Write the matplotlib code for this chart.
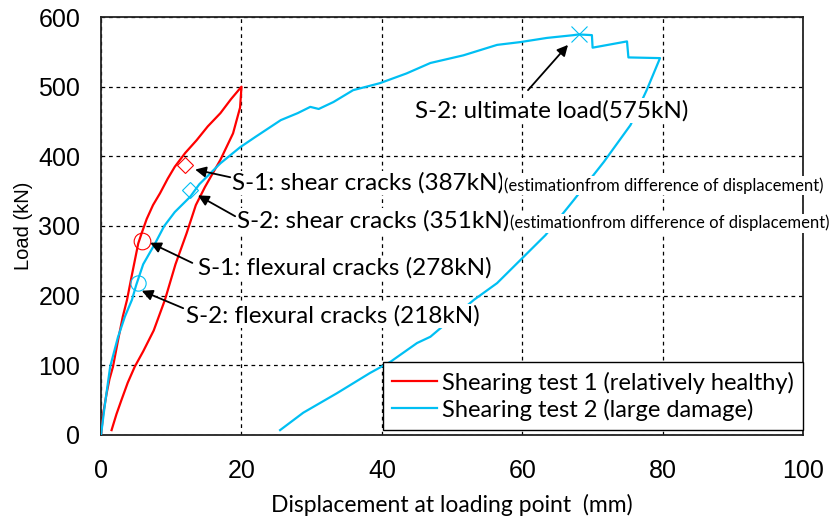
import matplotlib
matplotlib.use("Agg")
import matplotlib.pyplot as plt

# Shearing test 1: loading up to 500 kN, then unloading
s1_disp = [0, 0.3, 0.8, 1.2, 1.7, 2.5, 3.1, 3.7, 4.4, 4.9, 5.3, 5.8, 6.5, 7.4, 8.4, 9.5,
           10.5, 12.0, 13.6, 15.2, 17.0, 18.5, 20.0,
           19.8, 18.8, 17.0, 14.8, 13.5, 12.2, 10.6, 9.1, 7.5, 6.0, 4.8, 3.8, 2.9, 2.2, 1.5]
s1_load = [0, 30, 60, 80, 98, 140, 170, 194, 230, 255, 275, 290, 310, 330, 347, 368,
           385, 405, 423, 443, 462, 482, 500,
           470, 433, 395, 356, 330, 290, 245, 194, 150, 120, 98, 75, 50, 30, 7]

# Shearing test 2: loading to ultimate, post-peak drops, unloading
s2_disp = [0, 0.5, 1.3, 2.4, 3.4, 4.4, 5.0, 6.0, 7.7, 9.0, 10.5, 12.7, 14.0, 15.0, 17.0,
           19.8, 22.0, 25.6, 28.0, 29.8, 31.0, 33.1, 35.9, 39.7, 43.5, 46.9, 51.6, 56.4,
           59.7, 63.5, 67.3, 68.0, 69.9, 70.0, 74.9, 75.1, 79.6,
           77.7, 75.4, 71.6, 67.3, 63.3, 60.4, 56.4, 53.1, 46.9, 45.0, 41.2, 38.3, 33.6,
           28.8, 25.5]
s2_load = [0, 40, 98, 140, 170, 194, 215, 245, 275, 300, 320, 342, 360, 370, 390,
           413, 428, 452, 462, 471, 468, 478, 495, 505, 519, 534, 545, 560,
           564, 570, 574, 575, 574, 556, 565, 542, 541,
           495, 445, 392, 337, 287, 258, 218, 194, 141, 132, 105, 89, 60,
           32, 7]

# Crack / ultimate events: (displacement, load)
s1_shear = (12.0, 387)
s2_shear = (12.6, 351)
s1_flex = (5.8, 278)
s2_flex = (5.2, 218)
s2_ult = (68.0, 575)

RED = "#ff0000"
BLUE = "#00bff3"
TEXT_FONT = ["Lato", "DejaVu Sans"]
TICK_FONT = ["Liberation Sans Narrow", "Liberation Sans", "DejaVu Sans"]

fig = plt.figure(figsize=(8.35, 5.22), dpi=100)
ax = fig.add_axes([0.121, 0.1667, 0.841, 0.8007])

ax.plot(s1_disp, s1_load, color=RED, lw=1.6, label="Shearing test 1 (relatively healthy)", zorder=3)
ax.plot(s2_disp, s2_load, color=BLUE, lw=1.6, label="Shearing test 2 (large damage)", zorder=3)

# event markers
ax.plot(*s1_shear, marker="D", ms=8, mfc="none", mec=RED, mew=0.8, zorder=4)
ax.plot(*s1_flex, marker="o", ms=12, mfc="none", mec=RED, mew=0.8, zorder=4)
ax.plot(*s2_shear, marker="D", ms=8, mfc="none", mec=BLUE, mew=0.8, zorder=4)
ax.plot(*s2_flex, marker="o", ms=11, mfc="none", mec=BLUE, mew=0.8, zorder=4)
ax.plot(*s2_ult, marker="x", ms=11, color=BLUE, mew=0.8, zorder=4)

ax.set_xlim(0, 100)
ax.set_ylim(0, 600)
ax.set_xticks([0, 20, 40, 60, 80, 100])
ax.set_yticks([0, 100, 200, 300, 400, 500, 600])
ax.tick_params(length=0)
ax.tick_params(axis="x", pad=17)
ax.tick_params(axis="y", pad=15)
for lab in ax.get_xticklabels() + ax.get_yticklabels():
    lab.set_family(TICK_FONT)
    lab.set_fontsize(18)

ax.grid(True, color="black", ls=(0, (3, 3)), lw=0.9, zorder=1)
for sp in ax.spines.values():
    sp.set_linewidth(1.3)
    sp.set_color("#222222")

ax.set_xlabel("Displacement at loading point  (mm)", family=TEXT_FONT, fontsize=16.5, labelpad=8)
ax.set_ylabel("Load (kN)", family=["Liberation Sans", "DejaVu Sans"], fontsize=14.5, labelpad=4)

box = dict(facecolor="white", edgecolor="none", pad=1.0)
arrow = dict(arrowstyle="-|>", color="black", lw=1.3, mutation_scale=16, shrinkA=0, shrinkB=0)

# label text, text anchor (left, centre), arrow tail, arrow tip
events = [
    ("S-1: shear cracks (387kN)", (18.6, 362), (18.4, 370), (13.4, 381)),
    ("S-2: shear cracks (351kN)", (19.4, 308), (19.1, 314), (13.8, 344)),
    ("S-1: flexural cracks (278kN)", (13.8, 240), (13.0, 247), (7.0, 276)),
    ("S-2: flexural cracks (218kN)", (12.1, 171), (11.7, 182), (5.8, 207)),
    ("S-2: ultimate load(575kN)", (44.7, 466), (60.8, 495), (66.5, 560)),
]

for label, text_xy, tail, tip in events:
    ax.annotate("", xy=tip, xytext=tail, arrowprops=arrow, zorder=6)

for label, text_xy, _, _ in events:
    ax.text(text_xy[0], text_xy[1], label, family=TEXT_FONT, fontsize=17.5,
            ha="left", va="center", bbox=box, zorder=5)

# trailing notes on the shear crack estimates
note = "(estimationfrom difference of displacement)"
fig.canvas.draw()
for label in ["S-1: shear cracks (387kN)", "S-2: shear cracks (351kN)"]:
    for t in ax.texts:
        if t.get_text() == label:
            bb = t.get_window_extent()
            x_end = ax.transData.inverted().transform((bb.x1, bb.y0))[0]
            ax.text(x_end, t.get_position()[1] - 4, note, family=TEXT_FONT, fontsize=12,
                    ha="left", va="center", bbox=box, zorder=5, clip_on=False)

leg = ax.legend(loc="lower right", bbox_to_anchor=(1.0, 0.012), prop={"family": TEXT_FONT, "size": 17},
                frameon=True, fancybox=False, edgecolor="black", framealpha=1,
                handlelength=1.9, handletextpad=0.2, borderpad=0.4, labelspacing=0.2,
                borderaxespad=0)
leg.get_frame().set_linewidth(1.0)
leg.set_zorder(7)

fig.savefig("out.png", dpi=100)
